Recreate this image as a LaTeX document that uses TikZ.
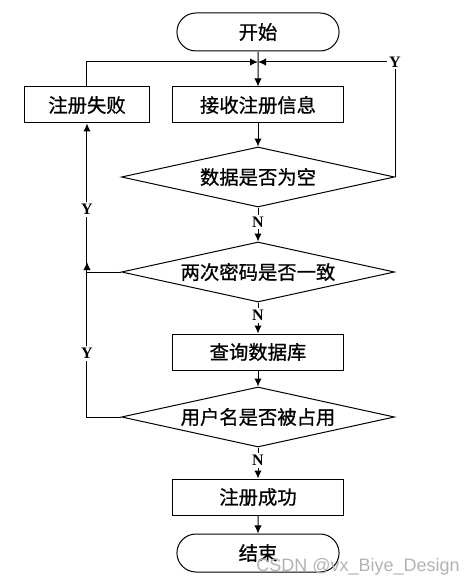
\documentclass[tikz,border=0pt]{standalone}
\usepackage{fontspec}
\setmainfont{Liberation Serif}
\newfontfamily\cjk[FakeBold=0.8]{Noto Sans CJK SC}
\newfontfamily\wmfont{Liberation Sans}
\usetikzlibrary{positioning,arrows.meta,shapes.geometric,shapes.misc}
\tikzset{
    on grid,
    auto,
    block/.style = {
        draw,
        shape=rectangle,
        minimum height=27pt,
        minimum width=128.25pt,
        line width=0.75pt,
        font=\cjk\fontsize{14.5pt}{16pt}\selectfont
    },
    decision/.style = {
        draw,
        shape=diamond,
        aspect=4.55,
        inner sep=0pt,
        minimum height=45pt,
        minimum width=204.75pt,
        line width=0.75pt,
        font=\cjk\fontsize{14.5pt}{16pt}\selectfont
    },
    terminal/.style = {
        draw,
        shape=rounded rectangle,
        minimum height=28.5pt,
        minimum width=128.25pt,
        line width=0.75pt,
        font=\cjk\fontsize{14.5pt}{16pt}\selectfont
    },
    yn/.style = {
        auto=false,
        anchor=center,
        fill=white,
        inner sep=1.5pt,
        font=\bfseries\fontsize{12pt}{14pt}\selectfont
    },
    >={Latex[length=6pt,width=5.5pt]},
}

\begin{document}
\begin{tikzpicture}[line width=0.75pt]
        \useasboundingbox (-193.5pt,24pt) rectangle (162pt,-414.75pt);

        \node[terminal] (start) at (0,0) {开始};
        \node[block, below=54.75pt of start] (recv) {接收注册信息};
        \node[block, minimum width=93.75pt, left=128.25pt of recv] (fail) {注册失败};
        \node[decision, below=54pt of recv] (chkempty) {数据是否为空};
        \node[decision, below=71.25pt of chkempty] (chkpwd) {两次密码是否一致};
        \node[block, below=60pt of chkpwd] (query) {查询数据库};
        \node[decision, below=48.75pt of query] (chkname) {用户名是否被占用};
        \node[block, below=60pt of chkname] (ok) {注册成功};
        \node[terminal, below=42pt of ok] (stop) {结束};
        \coordinate[below=22.5pt of start] (join);
        \coordinate (back) at (fail |- chkpwd);
        \coordinate[above=7.5pt of back] (backtip);

        \path[draw, ->] (start) -- (recv);
        \path[draw, ->] (fail.north) -- (fail.north |- join) -- (join);
        \path[draw, ->] (chkempty.east) -- (chkempty.east |- join) node[yn] {Y} -- (join);
        \path[draw, ->] (recv) -- (chkempty);
        \path[draw, ->] (chkempty) -- node[yn, pos=0.42] {N} (chkpwd);
        \path[draw, ->] (chkpwd) -- node[yn, pos=0.42] {N} (query);
        \path[draw, ->] (query) -- (chkname);
        \path[draw, ->] (chkname) -- node[yn, pos=0.42] {N} (ok);
        \path[draw, ->] (ok) -- (stop);
        \path[draw] (chkpwd.west) -- (back);
        \path[draw, ->] (chkname.west) -- (chkname.west -| fail) -- node[yn, pos=0.41] {Y} (backtip);
        \path[draw, ->] (back) -- node[yn, pos=0.42] {Y} (fail.south);

        \node[text=black!30, font=\wmfont\fontsize{13.5pt}{15pt}\selectfont] (mark) at (75pt,-401.5pt) {CSDN @vx\_Biye\_Design};
    \end{tikzpicture}
\end{document}
